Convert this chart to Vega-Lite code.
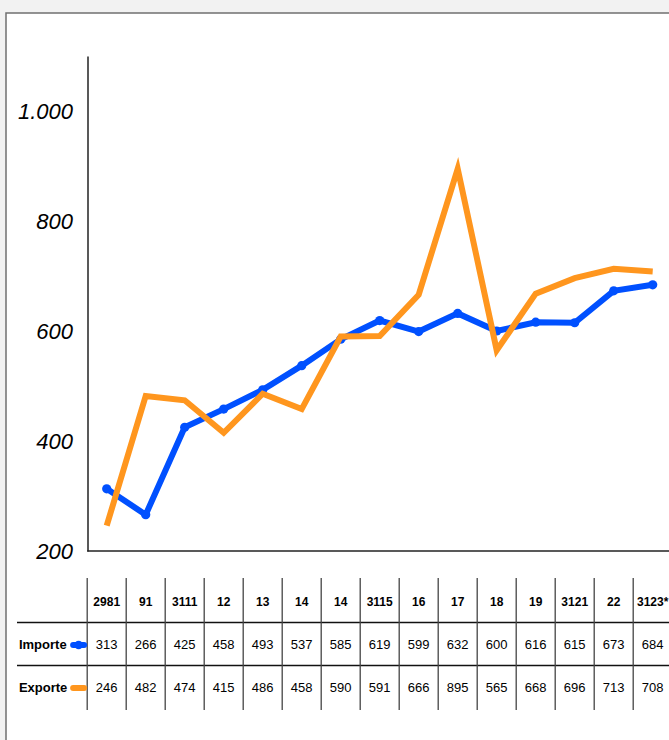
{
  "$schema": "https://vega.github.io/schema/vega-lite/v6.json",
  "width": 710,
  "height": 740,
  "padding": {"left": 6, "top": 13, "right": 0, "bottom": 0},
  "background": "#f2f2f2",
  "config": {
    "font": "Liberation Sans",
    "view": {"fill": "white", "stroke": "#707070", "strokeWidth": 1.5}
  },
  "datasets": {
    "s": [
      {"i": 0, "cat": "2981", "series": "Importe", "value": 313},
      {"i": 1, "cat": "91", "series": "Importe", "value": 266},
      {"i": 2, "cat": "3111", "series": "Importe", "value": 425},
      {"i": 3, "cat": "12", "series": "Importe", "value": 458},
      {"i": 4, "cat": "13", "series": "Importe", "value": 493},
      {"i": 5, "cat": "14", "series": "Importe", "value": 537},
      {"i": 6, "cat": "14", "series": "Importe", "value": 585},
      {"i": 7, "cat": "3115", "series": "Importe", "value": 619},
      {"i": 8, "cat": "16", "series": "Importe", "value": 599},
      {"i": 9, "cat": "17", "series": "Importe", "value": 632},
      {"i": 10, "cat": "18", "series": "Importe", "value": 600},
      {"i": 11, "cat": "19", "series": "Importe", "value": 616},
      {"i": 12, "cat": "3121", "series": "Importe", "value": 615},
      {"i": 13, "cat": "22", "series": "Importe", "value": 673},
      {"i": 14, "cat": "3123*", "series": "Importe", "value": 684},
      {"i": 0, "cat": "2981", "series": "Exporte", "value": 246},
      {"i": 1, "cat": "91", "series": "Exporte", "value": 482},
      {"i": 2, "cat": "3111", "series": "Exporte", "value": 474},
      {"i": 3, "cat": "12", "series": "Exporte", "value": 415},
      {"i": 4, "cat": "13", "series": "Exporte", "value": 486},
      {"i": 5, "cat": "14", "series": "Exporte", "value": 458},
      {"i": 6, "cat": "14", "series": "Exporte", "value": 590},
      {"i": 7, "cat": "3115", "series": "Exporte", "value": 591},
      {"i": 8, "cat": "16", "series": "Exporte", "value": 666},
      {"i": 9, "cat": "17", "series": "Exporte", "value": 895},
      {"i": 10, "cat": "18", "series": "Exporte", "value": 565},
      {"i": 11, "cat": "19", "series": "Exporte", "value": 668},
      {"i": 12, "cat": "3121", "series": "Exporte", "value": 696},
      {"i": 13, "cat": "22", "series": "Exporte", "value": 713},
      {"i": 14, "cat": "3123*", "series": "Exporte", "value": 708}
    ]
  },
  "layer": [
    {
      "layer": [
        {
          "data": {"values": [{}]},
          "mark": {"type": "rule", "color": "#222222", "strokeWidth": 1.5},
          "encoding": {
            "x": {"datum": -0.5, "type": "quantitative",
              "scale": {"domain": [-2.3, 15.5], "range": [11, 705.2], "nice": false, "zero": false},
              "axis": null},
            "x2": {"datum": 15.5},
            "y": {"datum": 200, "type": "quantitative",
              "scale": {"domain": [200, 1100], "range": [538, 43], "nice": false, "zero": false},
              "axis": {
                "orient": "left", "offset": -81.5, "title": null,
                "values": [200, 400, 600, 800, 1000],
                "labelExpr": "datum.value == 1000 ? '1.000' : datum.label",
                "ticks": false, "grid": false,
                "labelFont": "Liberation Sans", "labelFontSize": 22, "labelFontStyle": "italic",
                "labelColor": "#000000", "labelPadding": 15,
                "domainColor": "#222222", "domainWidth": 1.5
              }}
          }
        },
        {
          "data": {"name": "s"},
          "transform": [{"filter": "datum.series == 'Importe'"}],
          "mark": {"type": "line", "color": "#0050ff", "strokeWidth": 6,
            "point": {"filled": true, "size": 85, "color": "#0050ff"}},
          "encoding": {
            "x": {"field": "i", "type": "quantitative"},
            "y": {"field": "value", "type": "quantitative"}
          }
        },
        {
          "data": {"name": "s"},
          "transform": [{"filter": "datum.series == 'Exporte'"}],
          "mark": {"type": "line", "color": "#ff961e", "strokeWidth": 6, "strokeJoin": "miter"},
          "encoding": {
            "x": {"field": "i", "type": "quantitative"},
            "y": {"field": "value", "type": "quantitative"}
          }
        }
      ]
    },
    {
      "layer": [
        {
          "data": {"name": "s"},
          "transform": [{"filter": "datum.i == 0"}],
          "mark": {"type": "rule", "color": "#111111", "strokeWidth": 1.4, "yOffset": -22.5},
          "encoding": {
            "x": {"datum": -2.3, "type": "quantitative"},
            "x2": {"datum": 15.5},
            "y": {"field": "series", "type": "nominal",
              "scale": {"type": "point", "domain": ["head", "Importe", "Exporte"], "range": [589, 675], "padding": 0},
              "axis": null}
          }
        },
        {
          "data": {"name": "s"},
          "transform": [{"filter": "datum.series == 'Importe'"}],
          "mark": {"type": "rule", "color": "#444444", "strokeWidth": 1.3, "xOffset": -19.5, "yOffset": -24, "y2Offset": 22},
          "encoding": {
            "x": {"field": "i", "type": "quantitative"},
            "y": {"datum": "head", "type": "nominal", "axis": null},
            "y2": {"datum": "Exporte"}
          }
        },
        {
          "data": {"name": "s"},
          "transform": [{"filter": "datum.series == 'Importe'"}],
          "mark": {"type": "text", "fontWeight": "bold", "fontSize": 12, "color": "#000000"},
          "encoding": {
            "x": {"field": "i", "type": "quantitative"},
            "y": {"datum": "head", "type": "nominal", "axis": null},
            "text": {"field": "cat"}
          }
        },
        {
          "data": {"name": "s"},
          "mark": {"type": "text", "fontSize": 13, "color": "#000000"},
          "encoding": {
            "x": {"field": "i", "type": "quantitative"},
            "y": {"field": "series", "type": "nominal", "axis": null},
            "text": {"field": "value", "type": "quantitative"}
          }
        },
        {
          "data": {"name": "s"},
          "transform": [{"filter": "datum.i == 0"}],
          "mark": {"type": "text", "fontSize": 13, "fontWeight": "bold", "align": "left", "color": "#000000"},
          "encoding": {
            "x": {"datum": -2.25, "type": "quantitative"},
            "y": {"field": "series", "type": "nominal", "axis": null},
            "text": {"field": "series"}
          }
        },
        {
          "data": {"name": "s"},
          "transform": [{"filter": "datum.i == 0"}],
          "mark": {"type": "point", "shape": "stroke", "filled": false, "size": 121, "strokeWidth": 6, "strokeCap": "round", "opacity": 1},
          "encoding": {
            "x": {"datum": -0.72, "type": "quantitative"},
            "y": {"field": "series", "type": "nominal", "axis": null},
            "color": {"field": "series", "type": "nominal",
              "scale": {"domain": ["Importe", "Exporte"], "range": ["#0050ff", "#ff961e"]},
              "legend": null}
          }
        },
        {
          "data": {"name": "s"},
          "transform": [{"filter": "datum.i == 0 && datum.series == 'Importe'"}],
          "mark": {"type": "point", "filled": true, "size": 75, "color": "#0050ff", "opacity": 1},
          "encoding": {
            "x": {"datum": -0.72, "type": "quantitative"},
            "y": {"field": "series", "type": "nominal", "axis": null}
          }
        }
      ]
    }
  ],
  "resolve": {"scale": {"y": "independent"}}
}
